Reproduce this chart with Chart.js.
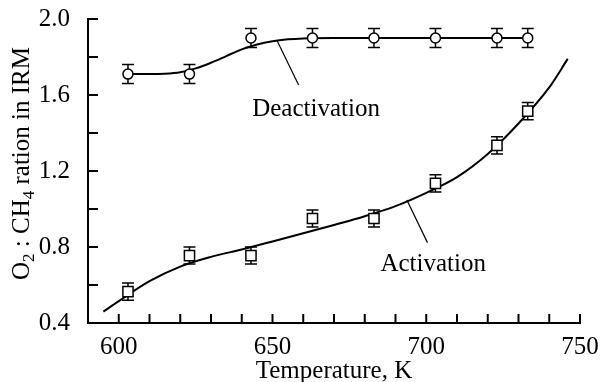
<!DOCTYPE html>
<html>
<head>
<meta charset="utf-8">
<script src="https://cdn.jsdelivr.net/npm/chart.js@4/dist/chart.umd.min.js"></script>
<style>
  html, body { margin: 0; padding: 0; background: #fff; }
  #c { display: block; }
</style>
</head>
<body>
<canvas id="c" width="601" height="382"></canvas>
<script>
const FONT = '"Liberation Serif", "Times New Roman", serif';

// measured points (temperature, K)
const temps = [603, 623, 643, 663, 683, 703, 723, 733];
const deactValues = [1.71, 1.71, 1.90, 1.90, 1.90, 1.90, 1.90, 1.90];
const deactErrors = [0.05, 0.05, 0.05, 0.05, 0.05, 0.05, 0.05, 0.05];
const actValues = [0.565, 0.755, 0.755, 0.95, 0.95, 1.135, 1.335, 1.515];
const actErrors = [0.045, 0.045, 0.045, 0.045, 0.045, 0.045, 0.045, 0.045];

// fitted curves
const deactFitT = [603, 610, 615, 620, 625, 630, 635, 640, 645, 650, 655, 660, 670, 700, 733];
const deactFitV = [1.71, 1.71, 1.712, 1.72, 1.74, 1.77, 1.805, 1.84, 1.866, 1.883, 1.893, 1.898, 1.90, 1.90, 1.90];
const actFitT = [595, 600, 610, 620, 630, 640, 650, 660, 670, 680, 690, 700, 710, 720, 730, 740, 746];
const actFitV = [0.46, 0.515, 0.62, 0.697, 0.748, 0.787, 0.829, 0.872, 0.916, 0.962, 1.015, 1.085, 1.168, 1.29, 1.45, 1.64, 1.79];

// axis ticks
const xMin = 590, xMax = 750, xStep = 10, xLabelEvery = 50;
const yMin = 0.4, yMax = 2.0, yStep = 0.2;
const yLabels = [0.4, 0.8, 1.2, 1.6, 2.0];

// curve labels with their leader lines (data units)
const notes = [
  { text: 'Deactivation', at: [643.4, 1.49], from: [651.5, 1.886], to: [658.5, 1.653] },
  { text: 'Activation', at: [685.1, 0.674], from: [693.7, 1.047], to: [700.4, 0.823] },
];

const pairs = (xs, ys) => xs.map((x, i) => ({ x, y: ys[i] }));

const errorBars = {
  id: 'errorBars',
  beforeDatasetsDraw(chart) {
    const { ctx, scales: { x, y } } = chart;
    ctx.save();
    ctx.strokeStyle = '#000';
    ctx.lineWidth = 1.5;
    [[deactValues, deactErrors], [actValues, actErrors]].forEach(([vals, errs]) => {
      temps.forEach((t, i) => {
        const px = x.getPixelForValue(t);
        const top = y.getPixelForValue(vals[i] + errs[i]);
        const bot = y.getPixelForValue(vals[i] - errs[i]);
        ctx.beginPath();
        ctx.moveTo(px, top); ctx.lineTo(px, bot);
        ctx.moveTo(px - 6, top); ctx.lineTo(px + 6, top);
        ctx.moveTo(px - 6, bot); ctx.lineTo(px + 6, bot);
        ctx.stroke();
      });
    });
    ctx.restore();
  },
};

const decorations = {
  id: 'decorations',
  afterDraw(chart) {
    const { ctx, scales: { x, y } } = chart;
    const area = chart.chartArea;
    ctx.save();
    // inward tick marks
    ctx.strokeStyle = '#000';
    ctx.lineWidth = 2;
    ctx.beginPath();
    x.ticks.forEach((t) => {
      const px = x.getPixelForValue(t.value);
      ctx.moveTo(px, area.bottom); ctx.lineTo(px, area.bottom - 9);
    });
    y.ticks.forEach((t) => {
      const py = y.getPixelForValue(t.value);
      ctx.moveTo(area.left, py); ctx.lineTo(area.left + 10, py);
    });
    ctx.stroke();

    // leader lines and labels
    ctx.lineWidth = 1.2;
    ctx.fillStyle = '#000';
    ctx.font = '25px ' + FONT;
    ctx.textBaseline = 'alphabetic';
    ctx.textAlign = 'left';
    notes.forEach((n) => {
      ctx.beginPath();
      ctx.moveTo(x.getPixelForValue(n.from[0]), y.getPixelForValue(n.from[1]));
      ctx.lineTo(x.getPixelForValue(n.to[0]), y.getPixelForValue(n.to[1]));
      ctx.stroke();
      ctx.fillText(n.text, x.getPixelForValue(n.at[0]), y.getPixelForValue(n.at[1]));
    });

    // y title with subscripts
    const parts = [['O', 0], ['2', 1], [' : CH', 0], ['4', 1], [' ration in IRM', 0]];
    ctx.translate(28.5, 280);
    ctx.rotate(-Math.PI / 2);
    let pos = 0;
    parts.forEach(([t, sub]) => {
      ctx.font = (sub ? '17px ' : '25px ') + FONT;
      ctx.fillText(t, pos, sub ? 5 : 0);
      pos += ctx.measureText(t).width;
    });
    ctx.restore();
  },
};

new Chart(document.getElementById('c'), {
  type: 'scatter',
  data: {
    datasets: [
      {
        label: 'Deactivation',
        data: pairs(temps, deactValues),
        pointStyle: 'circle',
        pointRadius: 5,
        pointBorderWidth: 1.5,
        pointBorderColor: '#000',
        pointBackgroundColor: '#fff',
      },
      {
        label: 'Activation',
        data: pairs(temps, actValues),
        pointStyle: 'rect',
        pointRadius: 7.2,
        pointBorderWidth: 1.5,
        pointBorderColor: '#000',
        pointBackgroundColor: '#fff',
      },
      {
        label: 'Deactivation fit',
        data: pairs(deactFitT, deactFitV),
        showLine: true,
        borderColor: '#000',
        borderWidth: 2,
        pointRadius: 0,
        cubicInterpolationMode: 'monotone',
      },
      {
        label: 'Activation fit',
        data: pairs(actFitT, actFitV),
        showLine: true,
        borderColor: '#000',
        borderWidth: 2,
        pointRadius: 0,
        cubicInterpolationMode: 'monotone',
      },
    ],
  },
  options: {
    responsive: false,
    animation: false,
    layout: { padding: { top: 19, right: 21, left: 0, bottom: 0 } },
    plugins: { legend: { display: false }, tooltip: { enabled: false } },
    scales: {
      x: {
        type: 'linear',
        min: xMin,
        max: xMax,
        grid: { display: false },
        border: { display: true, color: '#000', width: 2 },
        ticks: {
          stepSize: xStep,
          autoSkip: false,
          maxRotation: 0,
          padding: 1,
          color: '#000',
          font: { family: FONT, size: 25 },
          callback: (v) => (v % xLabelEvery === 0 ? String(v) : ''),
        },
        title: {
          display: true,
          text: 'Temperature, K',
          color: '#000',
          font: { family: FONT, size: 25 },
          padding: { top: 0, bottom: -4 },
        },
        afterFit: (s) => { s.height = 59; s.paddingLeft = 0; s.paddingRight = 0; },
      },
      y: {
        min: yMin,
        max: yMax,
        grid: { display: false },
        border: { display: true, color: '#000', width: 2 },
        ticks: {
          stepSize: yStep,
          autoSkip: false,
          padding: 10,
          color: '#000',
          font: { family: FONT, size: 25 },
          callback: (v) => (yLabels.some((l) => Math.abs(l - v) < 1e-6) ? v.toFixed(1) : ''),
        },
        afterFit: (s) => { s.width = 88; s.paddingTop = 0; s.paddingBottom = 0; },
      },
    },
  },
  plugins: [errorBars, decorations],
});
</script>
</body>
</html>
